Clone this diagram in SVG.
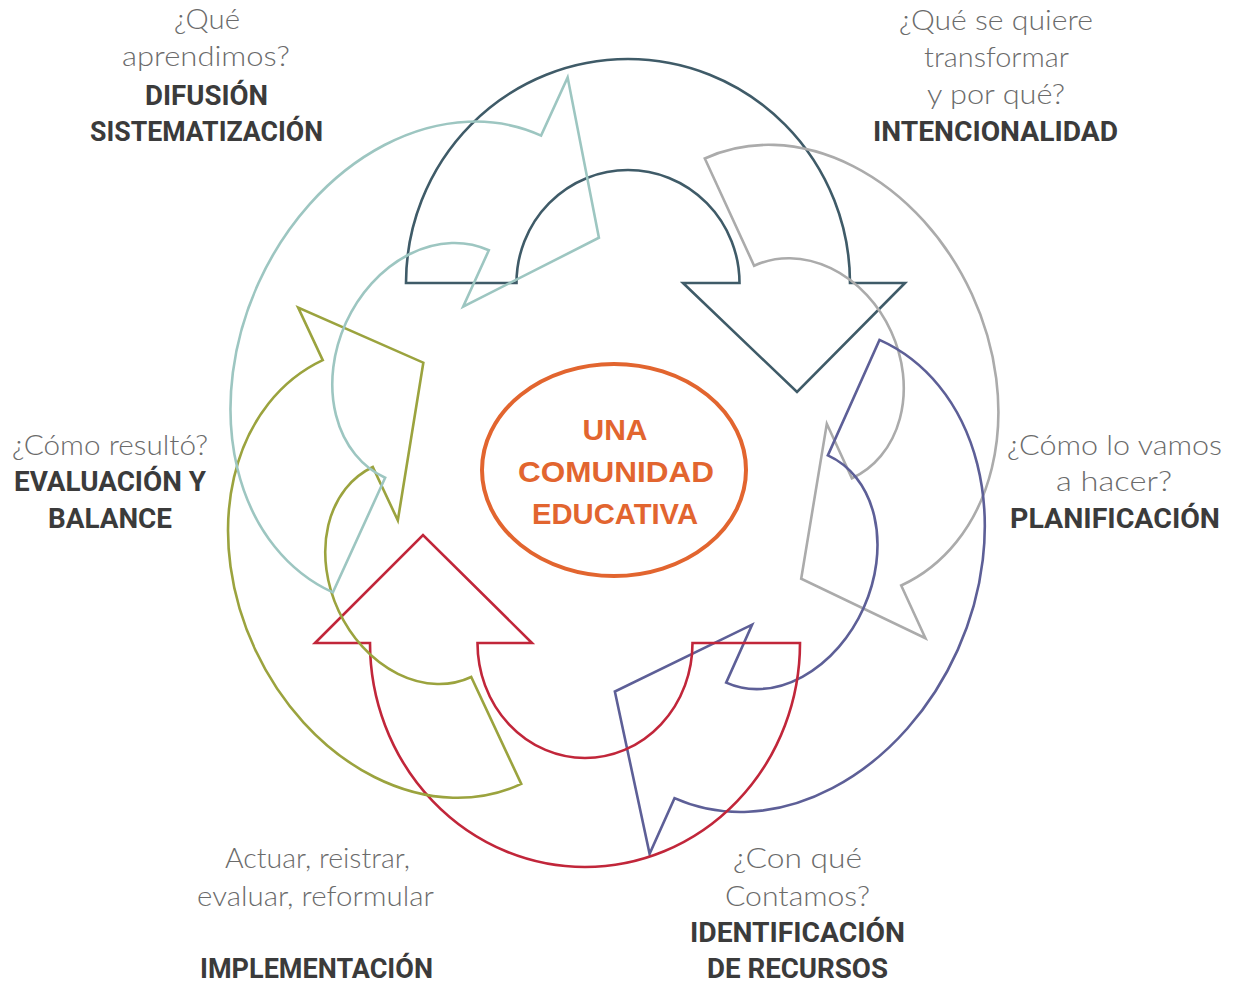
<svg xmlns="http://www.w3.org/2000/svg" width="1237" height="985" viewBox="0 0 1237 985">
<style>
  .arr { fill: none; stroke-width: 2.6; stroke-linejoin: miter; }
  .q { font-family: "Lato", "Open Sans", "Liberation Sans", sans-serif; font-weight: 300; font-size: 27px; fill: #6b6b6b; text-anchor: middle; }
  .b { font-family: "Roboto", "Liberation Sans", sans-serif; font-weight: 700; font-size: 27px; fill: #3b3b3b; text-anchor: middle; }
  .c { font-family: "Liberation Sans", "Roboto", sans-serif; font-weight: 700; font-size: 30px; fill: #e2652f; text-anchor: middle; }
</style>
<rect width="1237" height="985" fill="#ffffff"/>

<g id="cycle-arrows">
  <g id="arrow-intencionalidad" transform="translate(628 283) rotate(0)">
    <path class="arr" stroke="#3f5b68" d="M -222,0 A 222 224 0 0 1 222,0 L 277,0 L 169,109 L 55,0 L 111.5,0 A 111.5 113 0 0 0 -111.5,0 Z"/>
  </g>
  <g id="arrow-planificacion" transform="translate(803 372) rotate(65.3)">
    <path class="arr" stroke="#ababab" d="M -235,0 A 235 186 0 0 1 235,0 L 293,0 L 187,88 L 57,0 L 117,0 A 117 97 0 0 0 -117,0 Z"/>
  </g>
  <g id="arrow-recursos" transform="translate(777 569) rotate(114.1)">
    <path class="arr" stroke="#5d5f97" d="M -251,0 A 251 198 0 0 1 251,0 L 312,0 L 178,98 L 61,0 L 124.5,0 A 124.5 95 0 0 0 -124.5,0 Z"/>
  </g>
  <g id="arrow-implementacion" transform="translate(585 643) rotate(180)">
    <path class="arr" stroke="#c1263a" d="M -215,0 A 215 224 0 0 1 215,0 L 270,0 L 162,108 L 53,0 L 107.5,0 A 107.5 115 0 0 0 -107.5,0 Z"/>
  </g>
  <g id="arrow-evaluacion" transform="translate(422 572) rotate(-115.1)">
    <path class="arr" stroke="#9ba33e" d="M -234,0 A 234 184 0 0 1 234,0 L 292,0 L 189,90 L 57,0 L 116,0 A 116 92 0 0 0 -116,0 Z"/>
  </g>
  <g id="arrow-difusion" transform="translate(437 364) rotate(-65.5)">
    <path class="arr" stroke="#9dc6c1" d="M -251,0 A 251 196 0 0 1 251,0 L 315,0 L 182,95 L 63,0 L 125,0 A 125 100 0 0 0 -125,0 Z"/>
  </g>
</g>

<g id="center">
  <ellipse cx="614" cy="470" rx="132" ry="106" fill="none" stroke="#e2652f" stroke-width="4"/>
  <text class="c" x="615" y="440" textLength="65" lengthAdjust="spacingAndGlyphs">UNA</text>
  <text class="c" x="616" y="482" textLength="196" lengthAdjust="spacingAndGlyphs">COMUNIDAD</text>
  <text class="c" x="615" y="524" textLength="166" lengthAdjust="spacingAndGlyphs">EDUCATIVA</text>
</g>

<g id="label-difusion">
  <text class="q" x="207" y="29" textLength="66" lengthAdjust="spacingAndGlyphs">¿Qué</text>
  <text class="q" x="206" y="66" textLength="168" lengthAdjust="spacingAndGlyphs">aprendimos?</text>
  <text class="b" x="206.5" y="105" textLength="123" lengthAdjust="spacingAndGlyphs">DIFUSIÓN</text>
  <text class="b" x="206.5" y="141" textLength="233" lengthAdjust="spacingAndGlyphs">SISTEMATIZACIÓN</text>
</g>

<g id="label-intencionalidad">
  <text class="q" x="996" y="30" textLength="194" lengthAdjust="spacingAndGlyphs">¿Qué se quiere</text>
  <text class="q" x="996.5" y="67" textLength="145" lengthAdjust="spacingAndGlyphs">transformar</text>
  <text class="q" x="996" y="104" textLength="138" lengthAdjust="spacingAndGlyphs">y por qué?</text>
  <text class="b" x="995.5" y="141" textLength="245" lengthAdjust="spacingAndGlyphs">INTENCIONALIDAD</text>
</g>

<g id="label-evaluacion">
  <text class="q" x="110" y="455" textLength="196" lengthAdjust="spacingAndGlyphs">¿Cómo resultó?</text>
  <text class="b" x="110" y="491" textLength="192" lengthAdjust="spacingAndGlyphs">EVALUACIÓN Y</text>
  <text class="b" x="110" y="528" textLength="124" lengthAdjust="spacingAndGlyphs">BALANCE</text>
</g>

<g id="label-planificacion">
  <text class="q" x="1114.5" y="455" textLength="215" lengthAdjust="spacingAndGlyphs">¿Cómo lo vamos</text>
  <text class="q" x="1114" y="491" textLength="116" lengthAdjust="spacingAndGlyphs">a hacer?</text>
  <text class="b" x="1115" y="528" textLength="210" lengthAdjust="spacingAndGlyphs">PLANIFICACIÓN</text>
</g>

<g id="label-implementacion">
  <text class="q" x="317.5" y="868" textLength="185" lengthAdjust="spacingAndGlyphs">Actuar, reistrar,</text>
  <text class="q" x="315.5" y="906" textLength="237" lengthAdjust="spacingAndGlyphs">evaluar, reformular</text>
  <text class="b" x="316.5" y="978" textLength="233" lengthAdjust="spacingAndGlyphs">IMPLEMENTACIÓN</text>
</g>

<g id="label-recursos">
  <text class="q" x="797.5" y="868" textLength="129" lengthAdjust="spacingAndGlyphs">¿Con qué</text>
  <text class="q" x="797.5" y="906" textLength="145" lengthAdjust="spacingAndGlyphs">Contamos?</text>
  <text class="b" x="797.5" y="942" textLength="215" lengthAdjust="spacingAndGlyphs">IDENTIFICACIÓN</text>
  <text class="b" x="797.5" y="978" textLength="181" lengthAdjust="spacingAndGlyphs">DE RECURSOS</text>
</g>
</svg>
